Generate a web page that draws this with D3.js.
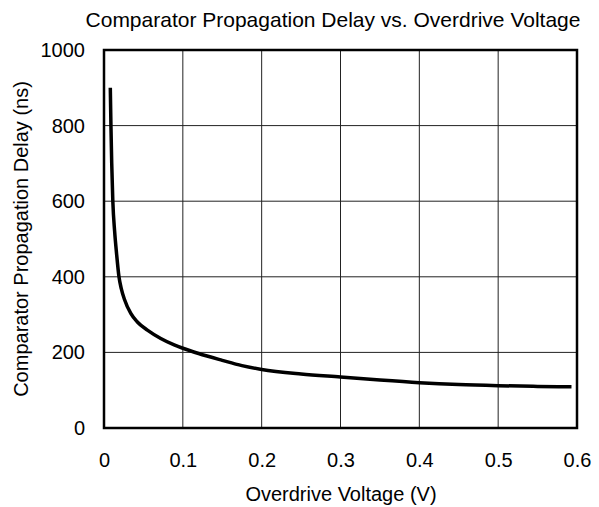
<!DOCTYPE html>
<html><head><meta charset="utf-8">
<script src="https://cdn.jsdelivr.net/npm/d3@7/dist/d3.min.js"></script>
<style>body{margin:0;background:#fff}text{font-family:"Liberation Sans",Arial,sans-serif;fill:#000}</style>
</head><body><svg id="c" width="599" height="507"></svg>
<script>
const voltage = [0.008, 0.0088, 0.0098, 0.0112, 0.0135, 0.016, 0.019, 0.022, 0.026, 0.034, 0.042, 0.055, 0.072, 0.089, 0.1, 0.12, 0.15, 0.175, 0.2, 0.25, 0.3, 0.35, 0.4, 0.45, 0.5, 0.55, 0.593];
const delay = [900, 800, 700, 600, 520, 460, 400, 368, 340, 303, 281, 259, 237, 220, 211, 197, 179, 165, 155, 143, 135, 127, 120, 115, 112, 110, 109];
const xTicks = [0, 0.1, 0.2, 0.3, 0.4, 0.5, 0.6];
const yTicks = [0, 200, 400, 600, 800, 1000];

const svg = d3.select("#c");
const L = 104, R = 577, T = 50, B = 428;
const FS = 20;
const x = d3.scaleLinear().domain([0, 0.6]).range([L, R]);
const y = d3.scaleLinear().domain([0, 1000]).range([B, T]);

// grid
svg.append("g").selectAll("line").data(xTicks.slice(1, -1)).join("line")
  .attr("x1", d => x(d)).attr("x2", d => x(d)).attr("y1", T).attr("y2", B)
  .attr("stroke", "#222").attr("stroke-width", 1);
svg.append("g").selectAll("line").data(yTicks.slice(1, -1)).join("line")
  .attr("y1", d => y(d)).attr("y2", d => y(d)).attr("x1", L).attr("x2", R)
  .attr("stroke", "#222").attr("stroke-width", 1);

// axes
const xa = svg.append("g").attr("transform", `translate(0,${B})`)
  .call(d3.axisBottom(x).tickValues(xTicks).tickSize(0).tickPadding(25).tickFormat(d => d === 0 ? "0" : d3.format(".1f")(d)));
const ya = svg.append("g").attr("transform", `translate(${L},0)`)
  .call(d3.axisLeft(y).tickValues(yTicks).tickSize(0).tickPadding(19).tickFormat(d3.format("d")));
[xa, ya].forEach(g => { g.select(".domain").remove(); g.selectAll("text").attr("font-size", FS).attr("font-family", "Liberation Sans, Arial, sans-serif").attr("fill", "#000"); });

// frame
svg.append("rect").attr("x", L).attr("y", T).attr("width", R - L).attr("height", B - T)
  .attr("fill", "none").attr("stroke", "#000").attr("stroke-width", 2.5);

// curve
svg.append("path").datum(voltage.map((v, i) => [v, delay[i]]))
  .attr("d", d3.line().x(d => x(d[0])).y(d => y(d[1])).curve(d3.curveMonotoneX))
  .attr("fill", "none").attr("stroke", "#000").attr("stroke-width", 3.5).attr("stroke-linejoin", "round");

// labels
svg.append("text").attr("x", 333).attr("y", 27).attr("text-anchor", "middle").attr("font-size", 21)
  .text("Comparator Propagation Delay vs. Overdrive Voltage");
svg.append("text").attr("x", 341).attr("y", 501).attr("text-anchor", "middle").attr("font-size", FS)
  .text("Overdrive Voltage (V)");
svg.append("text").attr("transform", `translate(28,${(T + B) / 2}) rotate(-90)`).attr("text-anchor", "middle").attr("font-size", FS)
  .text("Comparator Propagation Delay (ns)");
</script></body></html>
